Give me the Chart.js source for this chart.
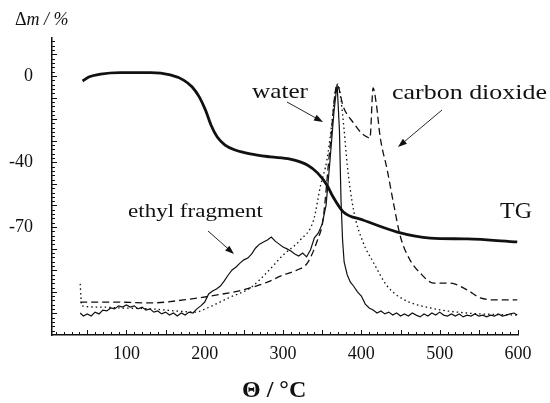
<!DOCTYPE html>
<html>
<head>
<meta charset="utf-8">
<script src="https://cdn.jsdelivr.net/npm/chart.js@4.4.1/dist/chart.umd.min.js"></script>
<style>
  html, body { margin: 0; padding: 0; background: #fff; }
  #wrap { width: 550px; height: 403px; }
</style>
</head>
<body>
<div id="wrap"><canvas id="myChart" width="550" height="403"></canvas></div>
<script>
// axis labels
const xTicks = [100, 200, 300, 400, 500, 600];
const yTicks = [0, -40, -70];

// TG curve (mass change, %)
const tgTemp = [44, 52, 67, 92, 131, 156, 173, 184, 193, 201, 208, 216, 226, 239, 258, 284, 309, 331, 344, 356, 364, 377, 402, 446, 488, 535, 599];
const tgMass = [-2.3, -0.5, 0.9, 1.6, 1.6, 0.5, -1.9, -5.1, -9.7, -15.8, -22.7, -28.3, -32, -34.3, -36.1, -37.5, -38.5, -41.2, -44.9, -50.5, -56.1, -63, -66.7, -72.3, -75.1, -75.5, -76.9];

// MS ion currents (arbitrary units)
const ethylTemp = [41, 45, 50, 55, 60, 65, 70, 75, 80, 85, 90, 95, 100, 105, 110, 115, 120, 125, 130, 135, 140, 145, 150, 155, 160, 165, 170, 175, 180, 185, 190, 195, 200, 205, 210, 215, 220, 225, 230, 235, 240, 245, 250, 255, 260, 265, 270, 275, 280, 285, 290, 295, 300, 305, 310, 315, 320, 325, 330, 335, 340, 345, 350, 355, 360, 365, 369, 372, 374, 376, 378, 382, 386, 390, 395, 400, 405, 410, 415, 420, 425, 430, 435, 440, 445, 450, 455, 460, 465, 470, 475, 480, 485, 490, 495, 500, 505, 510, 515, 520, 525, 530, 535, 540, 545, 550, 555, 560, 565, 570, 575, 580, 585, 590, 595, 599];
const ethylSignal = [7.4, 6.4, 7.1, 6.4, 7.7, 7.1, 8.4, 8.1, 9.1, 8.8, 9.8, 9.4, 10.1, 9.4, 9.8, 8.8, 9.4, 8.4, 8.8, 7.7, 8.1, 7.1, 7.7, 6.7, 7.4, 6.4, 7.4, 6.7, 7.7, 7.4, 8.8, 9.8, 11.1, 13.8, 14.8, 15.5, 16.5, 18.2, 20.2, 21.9, 22.9, 24.2, 25.3, 25.9, 27.3, 29.3, 30.6, 31.3, 32, 33, 31.6, 30.6, 29.6, 29, 28.3, 27.3, 26.6, 27.6, 26.3, 28.6, 32.7, 34.3, 37.4, 43.8, 58.9, 75.1, 84.5, 69, 45.5, 32, 24.6, 20.2, 17.8, 16.5, 14.5, 13.1, 10.4, 9.1, 8.4, 7.4, 8.1, 7.1, 7.7, 6.7, 7.4, 6.4, 7.1, 6.4, 7.4, 6.7, 6.1, 7.1, 6.4, 7.4, 6.7, 7.7, 6.7, 6.4, 7.1, 6.4, 7.1, 6.1, 6.7, 6.4, 7.1, 6.4, 6.7, 6.1, 6.7, 6.4, 7.1, 6.4, 6.7, 7.1, 7.4, 6.7];

const waterTemp = [41, 43, 67, 92, 131, 163, 188, 201, 214, 233, 258, 280, 300, 322, 339, 348, 356, 362, 367, 370, 374, 378, 382, 390, 402, 415, 433, 453, 488, 535, 599];
const waterSignal = [17.2, 9.8, 9.4, 9.1, 8.8, 8.1, 7.7, 8.8, 10.4, 12.8, 15.8, 21.2, 26.9, 32, 38.7, 50.5, 58.9, 70.7, 82.5, 84.5, 79.1, 69, 57.2, 42.1, 31.3, 24.6, 16.5, 12.1, 9.1, 7.4, 6.7];

const co2Temp = [41, 80, 131, 173, 216, 249, 280, 300, 318, 331, 344, 351, 360, 369, 377, 390, 400, 407, 411, 415, 419, 424, 433, 441, 450, 462, 475, 492, 513, 535, 552, 575, 594, 599];
const co2Signal = [11.1, 11.1, 10.8, 11.8, 13.5, 15.2, 17.8, 20.2, 21.9, 24.2, 32, 38.7, 63.3, 84.2, 76.8, 71.4, 68, 66.7, 66.3, 83.2, 78, 66.7, 55.6, 44.4, 33, 25.3, 20.9, 17.5, 17.5, 15.2, 12.5, 11.8, 11.8, 11.8];

const serif = '"Liberation Serif", "Times New Roman", serif';
const ink = '#111';

const pairs = (xs, ys) => xs.map((x, i) => ({ x: x, y: ys[i] }));

function stretchText(ctx, text, left, base, font, width) {
    ctx.save();
    ctx.font = font;
    const w = ctx.measureText(text).width;
    ctx.translate(left, base);
    ctx.scale(width ? width / w : 1, 1);
    ctx.textAlign = 'left';
    ctx.textBaseline = 'alphabetic';
    ctx.fillText(text, 0, 0);
    ctx.restore();
}

function arrow(ctx, x1, y1, x2, y2) {
    const a = Math.atan2(y2 - y1, x2 - x1);
    const len = 9, half = 3.2;
    ctx.beginPath();
    ctx.moveTo(x1, y1);
    ctx.lineTo(x2 - Math.cos(a) * len * 0.8, y2 - Math.sin(a) * len * 0.8);
    ctx.stroke();
    ctx.beginPath();
    ctx.moveTo(x2, y2);
    ctx.lineTo(x2 - Math.cos(a) * len + Math.sin(a) * half, y2 - Math.sin(a) * len - Math.cos(a) * half);
    ctx.lineTo(x2 - Math.cos(a) * len - Math.sin(a) * half, y2 - Math.sin(a) * len + Math.cos(a) * half);
    ctx.closePath();
    ctx.fill();
}

const decor = {
    id: 'decor',
    afterDraw(chart) {
        const ctx = chart.ctx;
        const xs = chart.scales.x, ys = chart.scales.y;
        const area = chart.chartArea;
        ctx.save();
        ctx.strokeStyle = ink;
        ctx.fillStyle = ink;
        ctx.lineWidth = 1;

        // inward tick marks
        for (let v = -118; v <= 16; v += 2) {
            const py = Math.round(ys.getPixelForValue(v)) + 0.5;
            const len = v % 10 === 0 ? 5 : 3;
            ctx.beginPath();
            ctx.moveTo(area.left, py);
            ctx.lineTo(area.left + len, py);
            ctx.stroke();
        }
        for (let t = 10; t <= 600; t += 10) {
            const px = Math.round(xs.getPixelForValue(t)) + 0.5;
            const len = t % 50 === 0 ? 5 : 3;
            ctx.beginPath();
            ctx.moveTo(px, area.bottom);
            ctx.lineTo(px, area.bottom - len);
            ctx.stroke();
        }

        // axis titles
        ctx.textBaseline = 'alphabetic';
        ctx.font = '18px ' + serif;
        ctx.fillText('\u0394', 15, 25);
        const dw = ctx.measureText('\u0394').width;
        ctx.font = 'italic 18px ' + serif;
        ctx.fillText('m / %', 15 + dw, 25);

        ctx.font = 'bold 24px ' + serif;
        ctx.fillText('\u0398 / \u00b0C', 242, 397);

        // curve labels
        stretchText(ctx, 'water', 252, 98, '22px ' + serif, 56);
        stretchText(ctx, 'carbon dioxide', 392, 99, '22px ' + serif, 155);
        stretchText(ctx, 'ethyl fragment', 128, 217, '19px ' + serif, 135);
        stretchText(ctx, 'TG', 500, 218, '24px ' + serif, 32);

        ctx.lineWidth = 0.9;
        arrow(ctx, 287, 102, 323, 122);
        arrow(ctx, 442, 110, 398, 147);
        arrow(ctx, 208, 231, 234, 254);
        ctx.restore();
    }
};

new Chart(document.getElementById('myChart'), {
    type: 'line',
    data: {
        datasets: [
            {
                label: 'TG',
                data: pairs(tgTemp, tgMass),
                yAxisID: 'y',
                borderColor: ink,
                borderWidth: 2.8,
                pointRadius: 0,
                cubicInterpolationMode: 'monotone',
            },
            {
                label: 'ethyl fragment',
                data: pairs(ethylTemp, ethylSignal),
                yAxisID: 'ms',
                borderColor: ink,
                borderWidth: 1.2,
                pointRadius: 0,
                tension: 0,
            },
            {
                label: 'water',
                data: pairs(waterTemp, waterSignal),
                yAxisID: 'ms',
                borderColor: ink,
                borderWidth: 1.3,
                borderDash: [1.5, 3],
                pointRadius: 0,
                cubicInterpolationMode: 'monotone',
            },
            {
                label: 'carbon dioxide',
                data: pairs(co2Temp, co2Signal),
                yAxisID: 'ms',
                borderColor: ink,
                borderWidth: 1.3,
                borderDash: [7, 4],
                pointRadius: 0,
                cubicInterpolationMode: 'monotone',
            }
        ]
    },
    options: {
        responsive: false,
        animation: false,
        layout: { padding: { left: 0, top: 38, right: 32, bottom: 0 } },
        plugins: {
            legend: { display: false },
            tooltip: { enabled: false }
        },
        scales: {
            x: {
                type: 'linear',
                min: 5,
                max: 600,
                afterBuildTicks: s => { s.ticks = xTicks.map(v => ({ value: v })); },
                afterFit: s => { s.height = 68; },
                grid: { display: false, drawTicks: false },
                border: { display: true, color: ink, width: 1.5 },
                ticks: {
                    color: ink,
                    padding: 8,
                    maxRotation: 0,
                    font: { family: serif, size: 18 },
                },
            },
            y: {
                type: 'linear',
                position: 'left',
                min: -120,
                max: 17.6,
                afterBuildTicks: s => { s.ticks = yTicks.map(v => ({ value: v })); },
                afterFit: s => { s.width = 52; },
                grid: { display: false, drawTicks: false },
                border: { display: true, color: ink, width: 1.5 },
                ticks: {
                    color: ink,
                    padding: 19,
                    font: { family: serif, size: 18 },
                },
            },
            ms: {
                type: 'linear',
                display: false,
                min: 0,
                max: 100,
            }
        }
    },
    plugins: [decor]
});
</script>
</body>
</html>
